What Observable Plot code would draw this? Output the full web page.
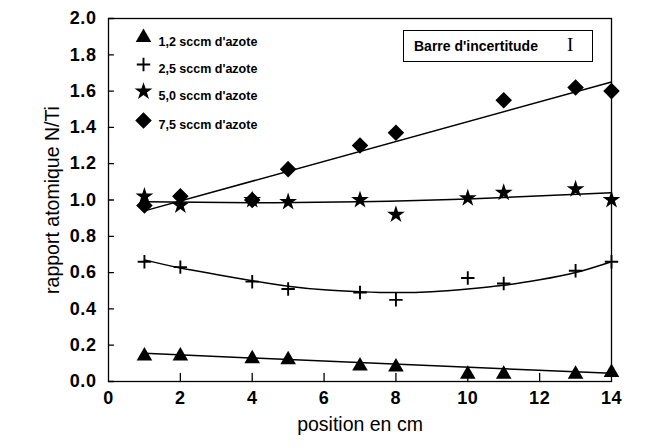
<!DOCTYPE html>
<html><head><meta charset="utf-8">
<script src="https://cdn.jsdelivr.net/npm/d3@7"></script>
<script src="https://cdn.jsdelivr.net/npm/@observablehq/plot@0.6"></script>
<style>
body{margin:0;background:#fff;}
#wrap{position:relative;width:668px;height:448px;font-family:"Liberation Sans",Arial,sans-serif;}
#wrap svg g[aria-label*="tick label"] text{font-weight:bold !important;letter-spacing:0.6px;}
#box{position:absolute;left:403px;top:30px;width:188px;height:30px;border:1.5px solid #000;box-sizing:content-box;
 font-weight:bold;font-size:14px;line-height:30px;color:#000;}
#box .t{position:absolute;left:10px;top:0;}
#box .i{position:absolute;left:163px;top:-1px;font-family:"Liberation Serif","DejaVu Serif",serif;font-weight:normal;font-size:19px;}
</style></head><body><div id="wrap"><div id="box"><span class="t">Barre d'incertitude</span><span class="i">I</span></div></div>
<script>
const series = ["1,2 sccm d'azote", "2,5 sccm d'azote", "5,0 sccm d'azote", "7,5 sccm d'azote"];
const xTicks = [0, 2, 4, 6, 8, 10, 12, 14];
const yTicks = [0, 0.2, 0.4, 0.6, 0.8, 1.0, 1.2, 1.4, 1.6, 1.8, 2.0];

// 1,2 sccm (triangles)
const triX = [1, 2, 4, 5, 7, 8, 10, 11, 13, 14];
const triY = [0.14, 0.14, 0.125, 0.12, 0.085, 0.08, 0.04, 0.04, 0.04, 0.05];
const triFitX = [1, 14];
const triFitY = [0.155, 0.045];

// 2,5 sccm (plus)
const plusX = [1, 2, 4, 5, 7, 8, 10, 11, 13, 14];
const plusY = [0.66, 0.63, 0.55, 0.51, 0.49, 0.45, 0.57, 0.54, 0.61, 0.66];
const plusFitX = [1, 2, 3, 4, 5, 6, 7, 8, 9, 10, 11, 12, 13, 14];
const plusFitY = [0.67, 0.625, 0.59, 0.555, 0.525, 0.505, 0.495, 0.49, 0.495, 0.51, 0.53, 0.56, 0.6, 0.66];

// 5,0 sccm (stars)
const starX = [1, 2, 4, 5, 7, 8, 10, 11, 13, 14];
const starY = [1.02, 0.97, 1.0, 0.99, 1.0, 0.92, 1.01, 1.04, 1.06, 1.0];
const starFitX = [1, 4, 7, 10, 14];
const starFitY = [0.99, 0.985, 0.99, 1.005, 1.04];

// 7,5 sccm (diamonds)
const diaX = [1, 2, 4, 5, 7, 8, 11, 13, 14];
const diaY = [0.97, 1.02, 1.0, 1.17, 1.3, 1.37, 1.55, 1.62, 1.6];
const diaFitX = [1, 14];
const diaFitY = [0.94, 1.65];

const pts = (xs, ys) => xs.map((x, i) => ({x, y: ys[i]}));

const symbols = ["triangle", "plus", "star", "diamond2"];
const symStyle = [
  {r: 5.8, fill: "black"},
  {r: 4.4, stroke: "black", strokeWidth: 1.9, fill: "none"},
  {r: 5.6, fill: "black"},
  {r: 6.5, fill: "black", stroke: "black"}
];
const legendDy = [19, 46, 73, 102];

const tickShape = {draw(ctx, l) { ctx.moveTo(0, 0); ctx.lineTo(0, -l); }};
const lineOpt = {x: "x", y: "y", stroke: "black", strokeWidth: 1.5};
const marks = [
  Plot.frame({stroke: "black", strokeWidth: 1.3}),
  Plot.vector(yTicks, {y: d => d, frameAnchor: "left", anchor: "start", rotate: 90, length: 5, shape: tickShape, stroke: "black", strokeWidth: 1.3}),
  Plot.vector(xTicks.slice(1, -1), {x: d => d, frameAnchor: "bottom", anchor: "start", length: 8, shape: tickShape, stroke: "black", strokeWidth: 1.3}),
  Plot.line(pts(triFitX, triFitY), lineOpt),
  Plot.line(pts(plusFitX, plusFitY), {...lineOpt, curve: "natural"}),
  Plot.line(pts(starFitX, starFitY), {...lineOpt, curve: "natural"}),
  Plot.line(pts(diaFitX, diaFitY), lineOpt),
  Plot.dot(pts(triX, triY), {x: "x", y: "y", symbol: symbols[0], ...symStyle[0]}),
  Plot.dot(pts(plusX, plusY), {x: "x", y: "y", symbol: symbols[1], ...symStyle[1]}),
  Plot.dot(pts(starX, starY), {x: "x", y: "y", symbol: symbols[2], ...symStyle[2]}),
  Plot.dot(pts(diaX, diaY), {x: "x", y: "y", symbol: symbols[3], ...symStyle[3]}),
  Plot.axisY({ticks: yTicks, tickFormat: d3.format(".1f"), tickSize: 0, tickPadding: 12, fontSize: 18, fontWeight: "bold", label: null}),
  Plot.axisX({ticks: xTicks, tickFormat: d3.format("d"), tickSize: 0, tickPadding: 10, fontSize: 18, fontWeight: "bold", label: null}),
  Plot.text(["rapport atomique N/Ti"], {frameAnchor: "left", dx: -56, rotate: -90, textAnchor: "middle", fontSize: 19.5}),
  Plot.text(["position en cm"], {frameAnchor: "bottom", dy: 49, textAnchor: "middle", fontSize: 19.5})
];
series.forEach((s, i) => {
  marks.push(Plot.dot([s], {frameAnchor: "top-left", dx: 35, dy: legendDy[i], symbol: symbols[i], ...symStyle[i]}));
  marks.push(Plot.text([s], {frameAnchor: "top-left", dx: 50, dy: legendDy[i], textAnchor: "start", fontSize: 12.5, fontWeight: "bold"}));
});

const chart = Plot.plot({
  width: 668,
  height: 448,
  marginLeft: 108,
  marginRight: 57,
  marginTop: 18,
  marginBottom: 67,
  style: {fontFamily: "'Liberation Sans', Arial, sans-serif", color: "black", background: "white"},
  x: {domain: [0, 14]},
  y: {domain: [0, 2]},
  marks
});
chart.style.position = "absolute";
chart.style.left = "0";
chart.style.top = "0";
document.getElementById("wrap").prepend(chart);
</script>
</body></html>
